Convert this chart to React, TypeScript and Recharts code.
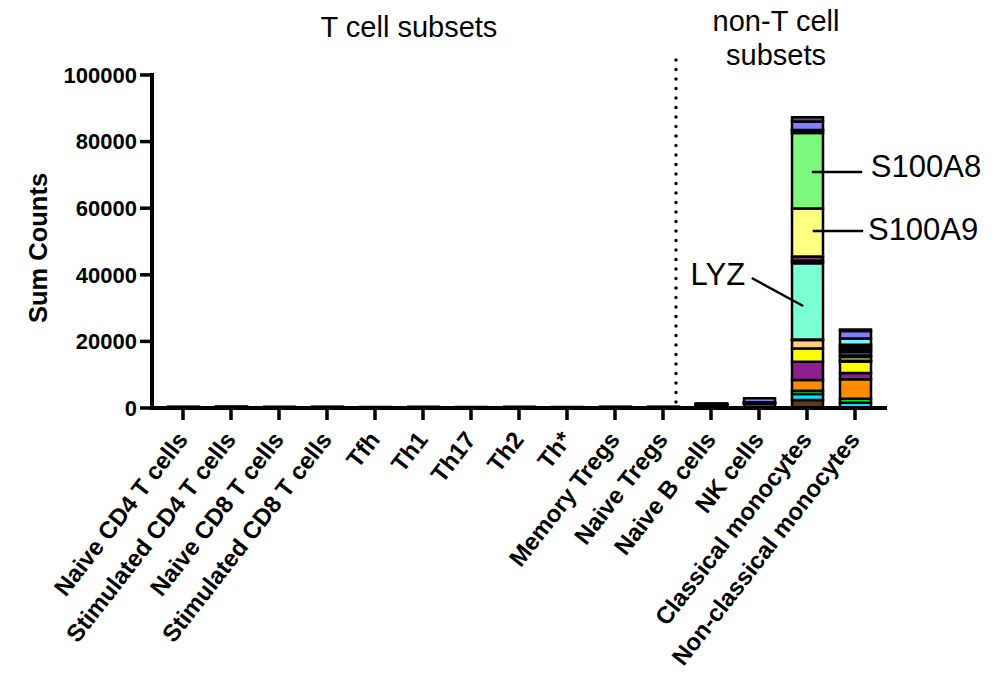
import React from 'react';
import { ComposedChart, Bar, XAxis, YAxis, ReferenceLine, ReferenceDot, Customized } from 'recharts';

const FONT = '"Liberation Sans", Arial, Helvetica, sans-serif';

const categories = [
  'Naive CD4 T cells',
  'Stimulated CD4 T cells',
  'Naive CD8 T cells',
  'Stimulated CD8 T cells',
  'Tfh',
  'Th1',
  'Th17',
  'Th2',
  'Th*',
  'Memory Tregs',
  'Naive Tregs',
  'Naive B cells',
  'NK cells',
  'Classical monocytes',
  'Non-classical monocytes',
];

const yTicks = [0, 20000, 40000, 60000, 80000, 100000];

// stacked genes, bottom to top
const geneNames = ['MALAT1', 'TMSB4X', 'B2M', 'FTL', 'FTH1', 'CST3', 'TYROBP', 'FCER1G', 'LYZ', 'LST1', 'AIF1', 'S100A9', 'S100A8', 'S100A6', 'S100A4', 'VCAN', 'CD14'];
const geneColors = ['#5c3a1e', '#00e5ff', '#00ee00', '#ff8c00', '#8e1f8e', '#ffff00', '#ffd080', '#e8f080', '#7dffd6', '#3a8f8a', '#7a3a7a', '#ffff80', '#7dfa7d', '#20404a', '#80f0ff', '#7f7fff', '#6b3f8f'];

const malat1 = [160, 180, 150, 170, 140, 150, 140, 150, 140, 160, 170, 100, 1300, 2400, 0];
const tmsb4x = [120, 150, 110, 140, 100, 110, 100, 110, 100, 120, 130, 150, 0, 1800, 1600];
const b2m = [90, 110, 80, 100, 70, 80, 70, 80, 70, 90, 100, 80, 0, 1000, 1200];
const ftl = [0, 0, 0, 0, 0, 0, 0, 0, 0, 0, 0, 100, 100, 3200, 5800];
const fth1 = [0, 0, 0, 0, 0, 0, 0, 0, 0, 0, 0, 80, 0, 5500, 1900];
const cst3 = [0, 0, 0, 0, 0, 0, 0, 0, 0, 0, 0, 80, 0, 4000, 3500];
const tyrobp = [0, 0, 0, 0, 0, 0, 0, 0, 0, 0, 0, 30, 0, 2500, 200];
const fcer1g = [0, 0, 0, 0, 0, 0, 0, 0, 0, 0, 0, 30, 0, 200, 1100];
const lyz = [0, 0, 0, 0, 0, 0, 0, 0, 0, 0, 0, 200, 150, 22900, 500];
const lst1 = [0, 0, 0, 0, 0, 0, 0, 0, 0, 0, 0, 50, 0, 700, 1000];
const aif1 = [0, 0, 0, 0, 0, 0, 0, 0, 0, 0, 0, 50, 0, 1300, 600];
const s100a9 = [0, 0, 0, 0, 0, 0, 0, 0, 0, 0, 0, 60, 0, 14400, 500];
const s100a8 = [0, 0, 0, 0, 0, 0, 0, 0, 0, 0, 0, 80, 150, 22700, 500];
const s100a6 = [0, 0, 0, 0, 0, 0, 0, 0, 0, 0, 0, 50, 0, 700, 600];
const s100a4 = [0, 0, 0, 0, 0, 0, 0, 0, 0, 0, 0, 50, 0, 200, 1900];
const vcan = [0, 0, 0, 0, 0, 0, 0, 0, 0, 0, 0, 100, 1200, 2500, 2200];
const cd14 = [0, 0, 0, 0, 0, 0, 0, 0, 0, 0, 0, 90, 0, 1300, 500];

const geneValues = [malat1, tmsb4x, b2m, ftl, fth1, cst3, tyrobp, fcer1g, lyz, lst1, aif1, s100a9, s100a8, s100a6, s100a4, vcan, cd14];

const data = categories.map((name, i) => {
  const row: Record<string, any> = { name, slot: i };
  geneNames.forEach((g, k) => {
    row[g] = geneValues[k][i];
  });
  return row;
});

const XTick = (props: any) => {
  const { x, y, payload } = props;
  const ax = x + 6;
  const ay = y + 18;
  return (
    <text
      x={ax}
      y={ay}
      textAnchor="end"
      transform={`rotate(-52, ${ax}, ${ay})`}
      fontFamily={FONT}
      fontWeight="bold"
      fontSize={24}
      fill="#000"
    >
      {payload.value}
    </text>
  );
};

const annoText = (label: string, anchor: 'start' | 'end') => (p: any) => (
  <text x={p.cx} y={p.cy} textAnchor={anchor} fontFamily={FONT} fontSize={31} fill="#000">
    {label}
  </text>
);

const Titles = () => (
  <g fontFamily={FONT} fill="#000">
    <text x={401} y={29} textAnchor="middle" fontSize={29}>T cell subsets</text>
    <text x={768} y={23} textAnchor="middle" fontSize={29}>non-T cell</text>
    <text x={768} y={57} textAnchor="middle" fontSize={29}>subsets</text>
    <text
      x={30}
      y={240}
      textAnchor="middle"
      dominantBaseline="central"
      transform="rotate(-90, 30, 240)"
      fontSize={25.5}
      fontWeight="bold"
    >
      Sum Counts
    </text>
  </g>
);

export default function App() {
  return (
    <div style={{ width: 978, height: 659 }}>
      <ComposedChart
        width={978}
        height={659}
        data={data}
        margin={{ top: 67, right: 99, left: 0, bottom: 9 }}
      >
        <XAxis
          dataKey="name"
          interval={0}
          height={250}
          tick={<XTick />}
          tickSize={12}
          tickLine={{ stroke: '#000', strokeWidth: 3.5 }}
          axisLine={{ stroke: '#000', strokeWidth: 4 }}
          padding={{ left: 7, right: 8 }}
        />
        <XAxis
          xAxisId="num"
          dataKey="slot"
          type="number"
          domain={[0, 14]}
          allowDataOverflow
          hide
          padding={{ left: 31, right: 32 }}
        />
        <YAxis
          width={144}
          domain={[0, 100000]}
          ticks={yTicks}
          interval={0}
          tickFormatter={(v: number) => String(v)}
          tickSize={12}
          tickMargin={3}
          tick={{ fontFamily: FONT, fontWeight: 'bold', fontSize: 22, fill: '#000' }}
          tickLine={{ stroke: '#000', strokeWidth: 3.5 }}
          axisLine={{ stroke: '#000', strokeWidth: 4, strokeLinecap: 'square' }}
        />
        {geneNames.map((g, k) => (
          <Bar
            key={g}
            dataKey={g}
            stackId="genes"
            fill={geneColors[k]}
            stroke="#000"
            strokeWidth={2.5}
            barSize={31}
            isAnimationActive={false}
          />
        ))}
        <ReferenceLine
          xAxisId="num"
          segment={[{ x: 10.27, y: 1800 }, { x: 10.27, y: 106900 }]}
          stroke="#000"
          strokeWidth={3.5}
          strokeDasharray="0 9.5"
          strokeLinecap="round"
          ifOverflow="visible"
        />
        <ReferenceLine
          xAxisId="num"
          segment={[{ x: 13.1, y: 70900 }, { x: 14.15, y: 70900 }]}
          stroke="#000"
          strokeWidth={2.5}
          ifOverflow="visible"
        />
        <ReferenceLine
          xAxisId="num"
          segment={[{ x: 13.12, y: 53150 }, { x: 14.17, y: 53150 }]}
          stroke="#000"
          strokeWidth={2.5}
          ifOverflow="visible"
        />
        <ReferenceLine
          xAxisId="num"
          segment={[{ x: 11.85, y: 39040 }, { x: 12.92, y: 30630 }]}
          stroke="#000"
          strokeWidth={2.5}
          ifOverflow="visible"
        />
        <ReferenceDot xAxisId="num" x={14.33} y={69400} r={0} ifOverflow="visible" shape={annoText('S100A8', 'start')} />
        <ReferenceDot xAxisId="num" x={14.27} y={50450} r={0} ifOverflow="visible" shape={annoText('S100A9', 'start')} />
        <ReferenceDot xAxisId="num" x={11.71} y={36940} r={0} ifOverflow="visible" shape={annoText('LYZ', 'end')} />
        <Customized component={Titles} />
      </ComposedChart>
    </div>
  );
}
